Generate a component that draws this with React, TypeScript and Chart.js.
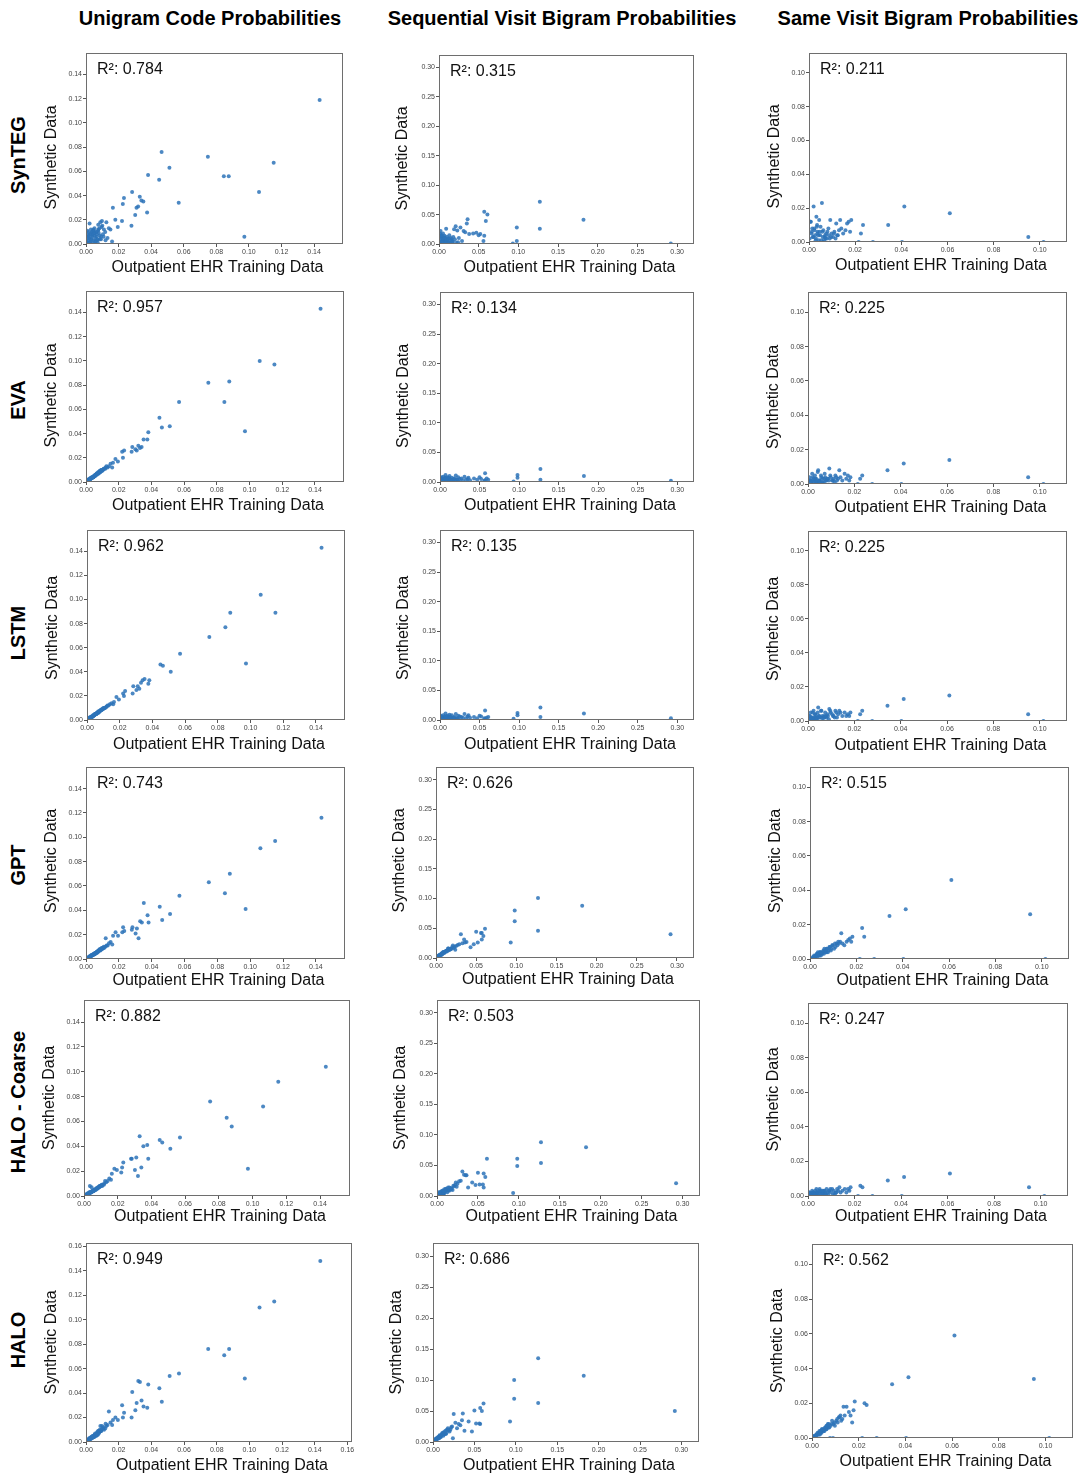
import React, { useEffect, useRef } from "react";
import { Chart, registerables } from "chart.js";
Chart.register(...registerables);

const FONT = '"Liberation Sans", Arial, Helvetica, sans-serif';

const modelNames = ["SynTEG", "EVA", "LSTM", "GPT", "HALO - Coarse", "HALO"];
const columnTitles = ["Unigram Code Probabilities", "Sequential Visit Bigram Probabilities", "Same Visit Bigram Probabilities"];
const xAxisLabel = "Outpatient EHR Training Data";
const yAxisLabel = "Synthetic Data";

const r2Unigram = ["0.784", "0.957", "0.962", "0.743", "0.882", "0.949"];
const r2Sequential = ["0.315", "0.134", "0.135", "0.626", "0.503", "0.686"];
const r2SameVisit = ["0.211", "0.225", "0.225", "0.515", "0.247", "0.562"];

const tickSteps = [0.02, 0.05, 0.02];

// ---- Unigram code probabilities ----
const unigramTrain = [0.1434,0.1152,0.1062,0.0972,0.0876,0.0846,0.0748,0.0569,0.0512,0.0464,
0.0449,0.0381,0.0375,0.0352,0.0340,0.0330,0.0320,0.0310,0.0302,0.0283,
0.0279,0.0233,0.0226,0.0221,0.0195,0.0180,0.0165,0.0160,0.0150,0.0140,
0.0132,0.0125,0.0118,0.0110,0.0104,0.0098,0.0092,0.0088,0.0082,0.0078,
0.0074,0.0070,0.0066,0.0062,0.0058,0.0054,0.0050,0.0046,0.0042,0.0038,
0.0034,0.0030,0.0026,0.0022,0.0018,0.0014,0.0010,0.0006,0.0003,0.0085,
0.0065,0.0045,0.0035,0.0025,0.0015,0.0055,0.0075,0.0095,0.0120,0.0020,
0.0012,0.0028,0.0044,0.0060,0.0076,0.0092,0.0108,0.0036,0.0052,0.0068,
0.0084,0.0100,0.0016,0.0032,0.0048,0.0008,0.0024,0.0040,0.0056,0.0072];
const synUnigram = [0.119,0.067,0.043,0.006,0.056,0.056,0.072,0.034,0.063,0.076,
0.053,0.057,0.026,0.035,0.036,0.039,0.031,0.030,0.024,0.043,
0.015,0.038,0.033,0.019,0.014,0.020,0.030,0.002,0.012,0.013,
0.005,0.018,0.010,0.012,0.008,0.019,0.006,0.018,0.013,0.009,
0.011,0.004,0.008,0.010,0.005,0.007,0.009,0.003,0.008,0.006,
0.004,0.012,0.002,0.017,0.007,0.003,0.005,0.001,0.002,0.004,
0.006,0.012,0.010,0.008,0.010,0.002,0.016,0.014,0.003,0.005,
0.008,0.004,0.011,0.002,0.012,0.004,0.006,0.001,0.013,0.003,
0.007,0.015,0.006,0.009,0.000,0.011,0.001,0.007,0.010,0.001];
const evaUnigram = [0.143,0.097,0.100,0.042,0.083,0.066,0.082,0.066,0.046,0.045,
0.053,0.041,0.035,0.035,0.029,0.028,0.030,0.026,0.027,0.029,
0.025,0.026,0.020,0.025,0.017,0.019,0.016,0.012,0.015,0.013,
0.012,0.013,0.011,0.011,0.010,0.009,0.009,0.008,0.008,0.007,
0.007,0.007,0.006,0.006,0.006,0.005,0.005,0.004,0.004,0.004,
0.003,0.003,0.003,0.002,0.002,0.001,0.001,0.001,0.000,0.009,
0.007,0.004,0.003,0.002,0.002,0.005,0.008,0.010,0.012,0.002,
0.001,0.003,0.004,0.006,0.008,0.010,0.011,0.004,0.005,0.007,
0.009,0.010,0.002,0.003,0.005,0.001,0.002,0.004,0.006,0.007];
const lstmUnigram = [0.143,0.089,0.104,0.047,0.089,0.077,0.069,0.055,0.040,0.045,
0.046,0.033,0.030,0.034,0.033,0.031,0.026,0.028,0.025,0.028,
0.022,0.024,0.020,0.022,0.017,0.019,0.015,0.013,0.014,0.013,
0.012,0.012,0.011,0.010,0.010,0.009,0.009,0.008,0.008,0.007,
0.007,0.006,0.006,0.006,0.005,0.005,0.005,0.004,0.004,0.004,
0.003,0.003,0.002,0.002,0.002,0.001,0.001,0.001,0.000,0.008,
0.006,0.004,0.003,0.002,0.001,0.005,0.007,0.009,0.011,0.002,
0.001,0.003,0.004,0.006,0.007,0.009,0.010,0.003,0.005,0.007,
0.008,0.010,0.002,0.003,0.005,0.001,0.002,0.004,0.005,0.007];
const gptUnigram = [0.116,0.097,0.091,0.041,0.070,0.054,0.063,0.052,0.037,0.032,
0.043,0.030,0.036,0.046,0.030,0.031,0.017,0.025,0.021,0.026,
0.024,0.023,0.026,0.022,0.019,0.022,0.019,0.012,0.014,0.013,
0.011,0.011,0.010,0.009,0.009,0.008,0.008,0.007,0.007,0.007,
0.006,0.006,0.005,0.005,0.005,0.004,0.004,0.004,0.003,0.003,
0.003,0.002,0.002,0.002,0.001,0.001,0.001,0.000,0.000,0.008,
0.006,0.004,0.003,0.002,0.001,0.005,0.007,0.009,0.017,0.002,
0.001,0.002,0.004,0.005,0.007,0.008,0.010,0.003,0.004,0.006,
0.008,0.009,0.001,0.003,0.004,0.001,0.002,0.003,0.005,0.006];
const haloCoarseUnigram = [0.104,0.092,0.072,0.022,0.056,0.063,0.076,0.047,0.038,0.043,
0.045,0.030,0.041,0.040,0.023,0.048,0.016,0.031,0.021,0.030,
0.030,0.027,0.023,0.019,0.021,0.022,0.018,0.013,0.014,0.012,
0.011,0.012,0.009,0.009,0.009,0.008,0.008,0.007,0.006,0.006,
0.006,0.005,0.005,0.005,0.004,0.004,0.004,0.003,0.003,0.003,
0.002,0.002,0.002,0.001,0.001,0.001,0.001,0.000,0.000,0.007,
0.005,0.007,0.008,0.002,0.001,0.004,0.006,0.008,0.010,0.002,
0.001,0.002,0.003,0.005,0.006,0.007,0.008,0.003,0.004,0.005,
0.007,0.008,0.001,0.003,0.004,0.001,0.002,0.003,0.004,0.006];
const haloUnigram = [0.148,0.115,0.110,0.052,0.076,0.071,0.076,0.056,0.054,0.033,
0.044,0.047,0.028,0.029,0.034,0.049,0.050,0.032,0.026,0.041,
0.020,0.024,0.020,0.030,0.018,0.020,0.018,0.014,0.016,0.025,
0.014,0.013,0.011,0.010,0.011,0.013,0.009,0.013,0.008,0.007,
0.008,0.006,0.007,0.005,0.006,0.005,0.004,0.004,0.004,0.003,
0.003,0.003,0.002,0.002,0.001,0.001,0.001,0.001,0.000,0.009,
0.006,0.005,0.004,0.003,0.002,0.006,0.009,0.010,0.015,0.003,
0.001,0.003,0.005,0.006,0.009,0.009,0.012,0.004,0.006,0.008,
0.010,0.011,0.002,0.004,0.004,0.002,0.003,0.005,0.007,0.006];

// ---- Sequential visit bigram probabilities ----
const sequentialTrain = [0.292,0.182,0.127,0.127,0.098,0.098,0.093,0.061,0.059,0.057,
0.057,0.056,0.052,0.050,0.047,0.043,0.038,0.036,0.035,0.033,
0.031,0.029,0.027,0.025,0.023,0.021,0.020,0.018,0.016,0.015,
0.013,0.012,0.010,0.009,0.008,0.007,0.006,0.005,0.004,0.003,
0.002,0.001,0.0005,0.014,0.011,0.0085,0.0065,0.0045,0.0025,0.0015,
0.017,0.022,0.019,0.024,
0.0012,0.0022,0.0032,0.0042,0.0052,0.0062,0.0072,0.0082,0.0095,0.0105,
0.0125,0.0135,0.0155,0.0175,0.0035,0.0075];
const synSequential = [0.001,0.041,0.072,0.026,0.028,0.005,0.001,0.050,0.039,0.055,
0.014,0.005,0.017,0.015,0.019,0.018,0.017,0.042,0.035,0.020,
0.022,0.005,0.028,0.010,0.023,0.030,0.008,0.012,0.006,0.010,
0.015,0.004,0.012,0.026,0.008,0.014,0.006,0.018,0.010,0.005,
0.022,0.012,0.003,0.002,0.009,0.003,0.011,0.007,0.015,0.001,
0.004,0.002,0.025,0.003,
0.018,0.008,0.013,0.004,0.009,0.002,0.011,0.005,0.003,0.007,
0.009,0.002,0.008,0.004,0.015,0.001];
const evaSequential = [0.002,0.010,0.022,0.004,0.012,0.007,0.001,0.004,0.006,0.015,
0.003,0.002,0.005,0.008,0.004,0.006,0.003,0.007,0.005,0.004,
0.009,0.003,0.006,0.005,0.008,0.004,0.011,0.006,0.003,0.007,
0.005,0.010,0.004,0.008,0.002,0.012,0.005,0.003,0.009,0.002,
0.006,0.004,0.001,0.003,0.007,0.001,0.004,0.002,0.005,0.000,
0.002,0.004,0.003,0.001,
0.008,0.003,0.006,0.002,0.004,0.007,0.002,0.005,0.003,0.006,
0.002,0.004,0.003,0.005,0.001,0.006];
const lstmSequential = [0.003,0.011,0.021,0.005,0.012,0.008,0.002,0.005,0.004,0.016,
0.002,0.003,0.006,0.007,0.003,0.005,0.004,0.008,0.006,0.003,
0.010,0.004,0.005,0.006,0.007,0.003,0.010,0.005,0.004,0.008,
0.006,0.009,0.003,0.007,0.002,0.011,0.004,0.002,0.008,0.003,
0.005,0.003,0.001,0.004,0.006,0.001,0.003,0.002,0.004,0.000,
0.001,0.003,0.002,0.001,
0.007,0.004,0.005,0.002,0.003,0.006,0.003,0.004,0.002,0.005,
0.003,0.004,0.002,0.004,0.001,0.005];
const gptSequential = [0.040,0.088,0.101,0.046,0.080,0.062,0.026,0.049,0.037,0.042,
0.031,0.042,0.026,0.044,0.023,0.018,0.027,0.026,0.031,0.025,
0.040,0.023,0.022,0.020,0.019,0.021,0.018,0.015,0.013,0.016,
0.012,0.011,0.009,0.010,0.008,0.007,0.006,0.005,0.004,0.003,
0.002,0.001,0.000,0.012,0.010,0.008,0.006,0.004,0.002,0.001,
0.014,0.017,0.015,0.014,
0.002,0.003,0.004,0.004,0.006,0.005,0.008,0.007,0.010,0.009,
0.012,0.011,0.016,0.015,0.002,0.006];
const haloCoarseSequential = [0.021,0.080,0.088,0.054,0.061,0.049,0.005,0.061,0.031,0.037,
0.014,0.019,0.019,0.038,0.018,0.022,0.014,0.034,0.034,0.035,
0.040,0.025,0.024,0.020,0.022,0.016,0.017,0.012,0.011,0.014,
0.010,0.009,0.008,0.011,0.007,0.006,0.008,0.005,0.004,0.003,
0.006,0.002,0.001,0.009,0.012,0.004,0.003,0.007,0.002,0.001,
0.013,0.018,0.010,0.015,
0.003,0.001,0.005,0.002,0.006,0.003,0.009,0.004,0.007,0.011,
0.006,0.014,0.009,0.012,0.004,0.002];
const haloSequential = [0.050,0.107,0.135,0.063,0.100,0.070,0.033,0.062,0.050,0.055,
0.029,0.030,0.030,0.051,0.017,0.033,0.018,0.046,0.035,0.027,
0.029,0.022,0.031,0.045,0.025,0.020,0.017,0.022,0.014,0.018,
0.012,0.015,0.010,0.009,0.011,0.008,0.007,0.006,0.005,0.003,
0.002,0.001,0.000,0.013,0.014,0.008,0.006,0.005,0.003,0.001,
0.020,0.024,0.019,0.006,
0.002,0.004,0.003,0.006,0.005,0.008,0.007,0.010,0.008,0.012,
0.010,0.016,0.013,0.019,0.005,0.006];

// ---- Same visit bigram probabilities ----
const sameVisitTrain = [0.1016,0.0950,0.0610,0.0413,0.0403,0.0343,0.0277,0.0234,0.0225,0.0215,
0.0183,0.0178,0.0172,0.0165,0.0158,0.0148,0.0140,0.0135,0.0130,0.0125,
0.0118,0.0110,0.0104,0.0098,0.0092,0.0086,0.0080,0.0074,0.0068,0.0062,
0.0056,0.0050,0.0044,0.0038,0.0032,0.0026,0.0020,0.0014,0.0008,0.0003,
0.0115,0.0090,0.0070,0.0060,0.0047,0.0035,0.0023,0.0011,0.0053,0.0077,
0.0017,0.0041,0.0029,0.0065,
0.0006,0.0012,0.0018,0.0024,0.0030,0.0036,0.0042,0.0048,0.0058,0.0072,
0.0084,0.0096,0.0108,0.0122,0.0034,0.0062];
const synSameVisit = [0.000,0.003,0.017,0.021,0.000,0.010,0.000,0.010,0.005,0.000,
0.013,0.006,0.012,0.011,0.007,0.005,0.008,0.013,0.007,0.004,
0.011,0.006,0.003,0.005,0.013,0.004,0.006,0.005,0.003,0.007,
0.023,0.009,0.013,0.006,0.015,0.004,0.021,0.008,0.012,0.002,
0.002,0.002,0.004,0.003,0.006,0.010,0.008,0.005,0.001,0.002,
0.003,0.004,0.001,0.001,
0.012,0.006,0.003,0.007,0.002,0.005,0.001,0.004,0.006,0.002,
0.008,0.003,0.005,0.004,0.009,0.000];
const evaSameVisit = [0.000,0.004,0.014,0.012,0.000,0.008,0.000,0.005,0.003,0.000,
0.004,0.002,0.005,0.003,0.006,0.002,0.004,0.008,0.003,0.002,
0.005,0.003,0.002,0.004,0.009,0.003,0.002,0.004,0.001,0.003,
0.005,0.002,0.008,0.001,0.003,0.002,0.004,0.001,0.002,0.000,
0.001,0.002,0.003,0.001,0.002,0.003,0.001,0.002,0.001,0.002,
0.000,0.001,0.002,0.000,
0.004,0.002,0.006,0.003,0.005,0.001,0.007,0.002,0.004,0.006,
0.003,0.005,0.002,0.004,0.000,0.001];
const lstmSameVisit = [0.000,0.004,0.015,0.013,0.000,0.009,0.000,0.006,0.004,0.000,
0.005,0.003,0.004,0.003,0.005,0.003,0.005,0.006,0.004,0.002,
0.006,0.003,0.004,0.005,0.007,0.003,0.002,0.005,0.002,0.003,
0.006,0.002,0.008,0.001,0.004,0.002,0.005,0.002,0.003,0.001,
0.002,0.001,0.003,0.002,0.003,0.002,0.001,0.001,0.002,0.003,
0.001,0.002,0.001,0.000,
0.003,0.005,0.002,0.006,0.004,0.001,0.005,0.003,0.006,0.002,
0.004,0.006,0.003,0.005,0.002,0.000];
const gptSameVisit = [0.000,0.026,0.046,0.029,0.000,0.025,0.000,0.013,0.018,0.000,
0.013,0.010,0.012,0.011,0.010,0.008,0.009,0.015,0.010,0.009,
0.008,0.007,0.006,0.008,0.006,0.007,0.005,0.006,0.004,0.005,
0.004,0.003,0.004,0.002,0.003,0.002,0.001,0.001,0.000,0.000,
0.009,0.005,0.004,0.003,0.002,0.002,0.001,0.000,0.003,0.004,
0.001,0.002,0.001,0.005,
0.000,0.001,0.002,0.002,0.003,0.003,0.004,0.004,0.005,0.006,
0.007,0.008,0.009,0.010,0.004,0.006];
const haloCoarseSameVisit = [0.000,0.005,0.013,0.011,0.000,0.009,0.000,0.005,0.006,0.000,
0.005,0.003,0.004,0.002,0.004,0.003,0.002,0.005,0.003,0.004,
0.002,0.003,0.004,0.002,0.003,0.001,0.004,0.002,0.003,0.001,
0.002,0.004,0.001,0.002,0.003,0.001,0.002,0.001,0.002,0.000,
0.001,0.003,0.001,0.002,0.000,0.001,0.002,0.001,0.003,0.001,
0.000,0.002,0.001,0.002,
0.002,0.001,0.003,0.002,0.001,0.004,0.002,0.003,0.001,0.003,
0.002,0.004,0.001,0.002,0.000,0.003];
const haloSameVisit = [0.000,0.034,0.059,0.035,0.000,0.031,0.000,0.019,0.020,0.000,
0.021,0.016,0.009,0.013,0.015,0.018,0.013,0.018,0.011,0.010,
0.012,0.009,0.010,0.007,0.008,0.010,0.007,0.006,0.008,0.005,
0.006,0.004,0.005,0.003,0.004,0.002,0.002,0.001,0.001,0.000,
0.012,0.000,0.006,0.005,0.004,0.003,0.002,0.000,0.004,0.000,
0.001,0.003,0.002,0.007,
0.001,0.001,0.002,0.003,0.003,0.004,0.005,0.005,0.006,0.008,
0.008,0.009,0.011,0.013,0.002,0.007];

// ---- layout (plot-area rectangles: left, top, right, bottom) ----
const plotRects = [
  [[86, 53, 343, 244], [439, 55, 694, 244], [809, 53, 1067, 242]],
  [[86, 291, 344, 482], [440, 292, 694, 482], [808, 292, 1067, 484]],
  [[87, 530, 345, 720], [440, 530, 694, 720], [808, 531, 1067, 721]],
  [[86, 767, 345, 959], [436, 767, 694, 958], [810, 767, 1069, 959]],
  [[84, 1000, 350, 1196], [437, 1000, 700, 1196], [808, 1003, 1068, 1196]],
  [[86, 1243, 352, 1442], [433, 1243, 699, 1442], [812, 1244, 1073, 1438]],
];
const yTitleDx = [34, 36, 34];
const yTitleDy = [9, 9, 3, -2, 0, 0];
const xTitleDy = [24, 24, 25, 22, 21, 24];
const rowLabelY = [155, 400, 633, 865, 1102, 1340];
const colTitleX = [210, 562, 928];

const PAD_L = 50;
const Y_W = 30;
const PAD_T = 8;
const PAD_R = 8;
const X_H = 40;

type PanelProps = {
  rect: number[];
  xs: number[];
  ys: number[];
  r2: string;
  step: number;
  ydx: number;
  ydy: number;
  xdy: number;
};

function Panel({ rect, xs, ys, r2, step, ydx, ydy, xdy }: PanelProps) {
  const ref = useRef<HTMLCanvasElement | null>(null);
  const [l, t, r, b] = rect;
  const w = r - l + PAD_L + PAD_R;
  const h = b - t + PAD_T + X_H;
  useEffect(() => {
    if (!ref.current) return;
    const lim = 1.1 * Math.max(Math.max(...xs), Math.max(...ys));
    const decor = {
      id: "decor",
      afterDraw(chart: any) {
        const { ctx, chartArea: a } = chart;
        ctx.save();
        ctx.strokeStyle = "#6e6e6e";
        ctx.lineWidth = 1;
        ctx.strokeRect(Math.round(a.left) + 0.5, Math.round(a.top) + 0.5, Math.round(a.right - a.left) - 1, Math.round(a.bottom - a.top) - 1);
        ctx.fillStyle = "#111";
        ctx.font = `16px ${FONT}`;
        ctx.textBaseline = "middle";
        ctx.textAlign = "left";
        ctx.fillText(`R²: ${r2}`, a.left + 11, a.top + 17);
        ctx.textAlign = "center";
        ctx.fillText(xAxisLabel, (a.left + a.right) / 2 + 3, a.bottom + xdy);
        ctx.translate(a.left - ydx, (a.top + a.bottom) / 2 + ydy);
        ctx.rotate(-Math.PI / 2);
        ctx.fillText(yAxisLabel, 0, 0);
        ctx.restore();
      },
    };
    const tickCfg = {
      stepSize: step,
      includeBounds: false,
      autoSkip: false,
      maxRotation: 0,
      padding: 1,
      color: "#444",
      font: { size: 7, family: FONT },
      callback: (v: any) => Number(v).toFixed(2),
    };
    const gridCfg = { display: true, drawOnChartArea: false, drawTicks: true, tickLength: 3, color: "#555" };
    const chart = new Chart(ref.current, {
      type: "scatter",
      data: {
        datasets: [
          {
            data: xs.map((x, i) => ({ x, y: ys[i] })),
            pointRadius: 2,
            pointHoverRadius: 2,
            backgroundColor: "rgba(45,115,185,0.85)",
            borderWidth: 0,
          },
        ],
      },
      options: {
        responsive: false,
        animation: false,
        events: [],
        layout: { padding: { left: PAD_L - Y_W, top: PAD_T, right: PAD_R, bottom: 0 } },
        plugins: { legend: { display: false }, tooltip: { enabled: false }, title: { display: false } },
        scales: {
          x: {
            type: "linear",
            min: 0,
            max: lim,
            ticks: tickCfg,
            grid: gridCfg,
            border: { display: false },
            afterFit: (s: any) => { s.height = X_H; },
          },
          y: {
            type: "linear",
            min: 0,
            max: lim,
            ticks: tickCfg,
            grid: gridCfg,
            border: { display: false },
            afterFit: (s: any) => { s.width = Y_W; },
          },
        },
      } as any,
      plugins: [decor],
    });
    return () => chart.destroy();
  }, []);
  return (
    <canvas
      ref={ref}
      width={w}
      height={h}
      style={{ position: "absolute", left: l - PAD_L, top: t - PAD_T, width: w, height: h }}
    />
  );
}

export default function App() {
  const xCols = [unigramTrain, sequentialTrain, sameVisitTrain];
  const yCols = [
    [synUnigram, evaUnigram, lstmUnigram, gptUnigram, haloCoarseUnigram, haloUnigram],
    [synSequential, evaSequential, lstmSequential, gptSequential, haloCoarseSequential, haloSequential],
    [synSameVisit, evaSameVisit, lstmSameVisit, gptSameVisit, haloCoarseSameVisit, haloSameVisit],
  ];
  const r2Cols = [r2Unigram, r2Sequential, r2SameVisit];
  return (
    <div style={{ position: "absolute", left: 0, top: 0, width: 1081, height: 1475, background: "#fff", overflow: "hidden", fontFamily: FONT }}>
      {columnTitles.map((tt, c) => (
        <div key={tt} style={{ position: "absolute", left: colTitleX[c], top: 18, transform: "translate(-50%,-50%)", whiteSpace: "nowrap", fontWeight: "bold", fontSize: 20, color: "#000" }}>
          {tt}
        </div>
      ))}
      {modelNames.map((m, i) => (
        <div key={m} style={{ position: "absolute", left: 18, top: rowLabelY[i], transform: "translate(-50%,-50%) rotate(-90deg)", whiteSpace: "nowrap", fontWeight: "bold", fontSize: 20, color: "#000" }}>
          {m}
        </div>
      ))}
      {modelNames.map((m, row) =>
        [0, 1, 2].map((c) => (
          <Panel
            key={`${m}-${c}`}
            rect={plotRects[row][c]}
            xs={xCols[c]}
            ys={yCols[c][row]}
            r2={r2Cols[c][row]}
            step={tickSteps[c]}
            ydx={yTitleDx[c]}
            ydy={yTitleDy[row]}
            xdy={xTitleDy[row]}
          />
        ))
      )}
    </div>
  );
}
